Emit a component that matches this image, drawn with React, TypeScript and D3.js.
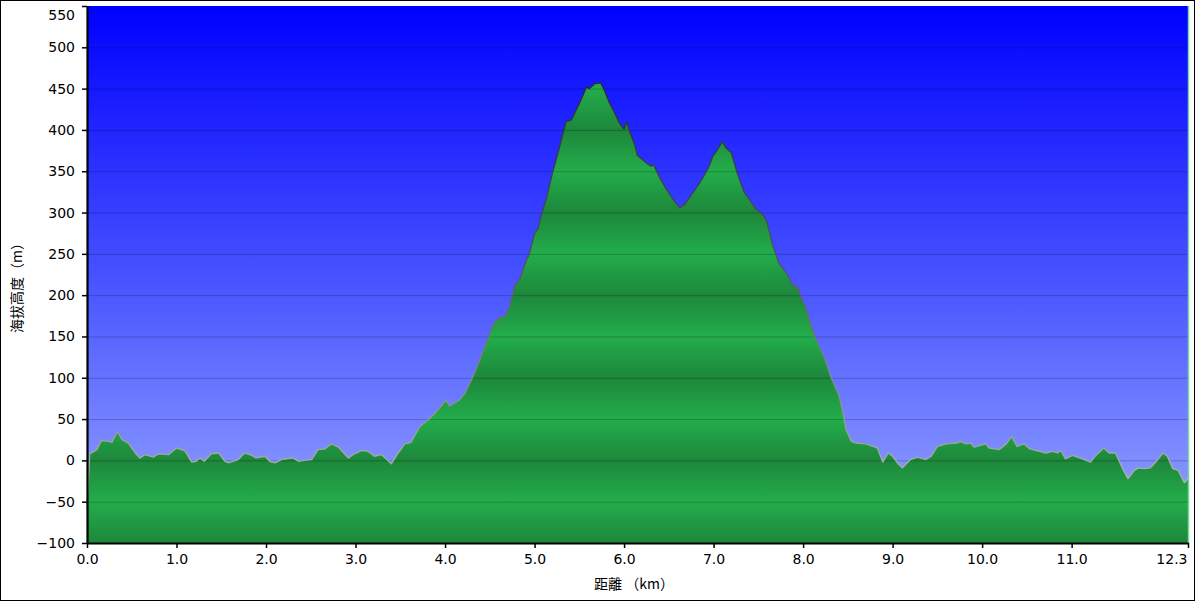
import { useEffect, useRef } from "react";
import * as d3 from "d3";

// elevation profile
const distanceKm = [
  0, 0.03, 0.05, 0.11, 0.16, 0.24, 0.28, 0.34, 0.39, 0.46, 0.54, 0.59, 0.65, 0.74, 0.8, 0.91,
  1.0, 1.09, 1.17, 1.22, 1.26, 1.31, 1.39, 1.47, 1.54, 1.58, 1.69, 1.76, 1.84, 1.89, 1.99,
  2.04, 2.1, 2.17, 2.3, 2.36, 2.43, 2.51, 2.58, 2.66, 2.73, 2.81, 2.92, 2.99,
  3.07, 3.14, 3.21, 3.29, 3.4, 3.47, 3.55, 3.62, 3.72, 3.85, 3.92,
  4.01, 4.05, 4.16, 4.22, 4.31, 4.39, 4.46, 4.54, 4.61, 4.67, 4.72, 4.78, 4.83, 4.91, 4.94,
  5.0, 5.04, 5.08, 5.13, 5.2, 5.28, 5.35, 5.41, 5.45, 5.5, 5.58, 5.61, 5.67, 5.74, 5.78, 5.84, 5.89, 5.95,
  6.0, 6.03, 6.06, 6.12, 6.15, 6.25, 6.3, 6.33, 6.4, 6.47, 6.54, 6.62, 6.67, 6.75, 6.84, 6.92, 6.95, 6.99,
  7.03, 7.1, 7.14, 7.2, 7.27, 7.34, 7.4, 7.47, 7.57, 7.6, 7.66, 7.73, 7.83, 7.88, 7.94, 7.98,
  8.03, 8.07, 8.14, 8.24, 8.31, 8.4, 8.44, 8.48, 8.54, 8.59, 8.7, 8.78, 8.83, 8.89, 8.95,
  9.0, 9.06, 9.11, 9.2, 9.28, 9.37, 9.43, 9.5, 9.6, 9.72, 9.76, 9.82, 9.87, 9.91,
  10.04, 10.08, 10.19, 10.27, 10.33, 10.39, 10.47, 10.53, 10.64, 10.71, 10.79, 10.84, 10.88, 10.93,
  11.01, 11.12, 11.21, 11.27, 11.36, 11.42, 11.49, 11.57, 11.63, 11.7, 11.75, 11.81, 11.88, 11.94,
  12.02, 12.07, 12.13, 12.19, 12.26, 12.3,
];

const elevationM = [
  -60, 8, 9, 13, 24, 23, 22, 35, 25, 21, 9, 3, 7, 4, 8, 7,
  15, 12, -2, -1, 3, -1, 8, 9, -1, -3, 1, 9, 6, 3, 5,
  -1, -3, 1, 3, -1, 0, 1, 13, 14, 20, 16, 3, 8,
  12, 11, 5, 7, -4, 8, 20, 22, 41, 53, 61,
  73, 66, 73, 81, 101, 122, 142, 165, 173, 174, 186, 212, 218, 243, 249,
  275, 281, 299, 316, 348, 380, 410, 412, 421, 432, 452, 450, 456, 457, 448, 432, 422, 408,
  401, 410, 399, 382, 369, 360, 356, 358, 342, 329, 317, 306, 309, 321, 335, 350, 356, 368,
  374, 386, 378, 372, 346, 325, 316, 305, 295, 287, 261, 239, 224, 212, 210, 196,
  186, 170, 148, 124, 101, 79, 61, 37, 23, 21, 20, 17, 15, -2, 9,
  5, -4, -9, 1, 4, 1, 5, 17, 20, 21, 23, 20, 21, 16,
  20, 15, 13, 20, 29, 17, 20, 14, 11, 9, 11, 9, 12, 2,
  6, 2, -2, 6, 15, 9, 9, -10, -22, -12, -9, -10, -9, -2,
  9, 5, -10, -12, -27, -22,
];

const yTicks = [-100, -50, 0, 50, 100, 150, 200, 250, 300, 350, 400, 450, 500, 550];
const xTicks = [0, 1, 2, 3, 4, 5, 6, 7, 8, 9, 10, 11, 12.3];
const xTickLabels = ["0.0", "1.0", "2.0", "3.0", "4.0", "5.0", "6.0", "7.0", "8.0", "9.0", "10.0", "11.0", "12.3"];

const W = 1195;
const H = 601;
const plot = { left: 87, right: 1188, top: 6, bottom: 543 };
const FONT = "'DejaVu Sans', Verdana, sans-serif";
const CJK = "'Noto Sans CJK TC', 'Noto Sans CJK SC', sans-serif";

const App = () => {
  const svgRef = useRef<SVGSVGElement>(null);

  useEffect(() => {
    const svg = d3.select(svgRef.current);
    svg.selectAll("*").remove();

    const data = distanceKm.map((d, i) => ({ km: d, m: elevationM[i] }));
    const x = d3.scaleLinear().domain([0, 12.3]).range([plot.left, plot.right]);
    const y = d3.scaleLinear().domain([-100, 550]).range([plot.bottom, plot.top]);

    const defs = svg.append("defs");
    const sky = defs.append("linearGradient").attr("id", "sky")
      .attr("gradientUnits", "userSpaceOnUse")
      .attr("x1", 0).attr("y1", plot.top).attr("x2", 0).attr("y2", plot.bottom);
    sky.append("stop").attr("offset", 0).attr("stop-color", "#0000ff");
    sky.append("stop").attr("offset", 0.5).attr("stop-color", "#4652ff");
    sky.append("stop").attr("offset", 1).attr("stop-color", "#98a8ff");

    // green bands repeating every 100 m
    const band = defs.append("linearGradient").attr("id", "band")
      .attr("gradientUnits", "userSpaceOnUse").attr("spreadMethod", "repeat")
      .attr("x1", 0).attr("y1", y(100)).attr("x2", 0).attr("y2", y(0));
    band.append("stop").attr("offset", 0).attr("stop-color", "#1d873b");
    band.append("stop").attr("offset", 0.5).attr("stop-color", "#23ad4b");
    band.append("stop").attr("offset", 1).attr("stop-color", "#1d873b");

    const edge = defs.append("linearGradient").attr("id", "edge")
      .attr("gradientUnits", "userSpaceOnUse")
      .attr("x1", 0).attr("y1", y(460)).attr("x2", 0).attr("y2", y(-30));
    edge.append("stop").attr("offset", 0).attr("stop-color", "#2a2a3a");
    edge.append("stop").attr("offset", 0.45).attr("stop-color", "#505070");
    edge.append("stop").attr("offset", 1).attr("stop-color", "#a8b8a8");

    svg.append("rect").attr("x", plot.left).attr("y", plot.top)
      .attr("width", plot.right - plot.left).attr("height", plot.bottom - plot.top)
      .attr("fill", "url(#sky)");

    const area = d3.area<any>().x((d) => x(d.km)).y0(y(-100)).y1((d) => y(d.m));
    svg.append("path").datum(data).attr("fill", "url(#band)").attr("d", area);

    svg.append("g").selectAll("line").data(yTicks.filter((t) => t > -100 && t < 550)).join("line")
      .attr("x1", plot.left).attr("x2", plot.right)
      .attr("y1", (d) => y(d) + 0.5).attr("y2", (d) => y(d) + 0.5)
      .attr("stroke", "#000").attr("stroke-opacity", 0.22).attr("stroke-width", 1);

    const line = d3.line<any>().x((d) => x(d.km)).y((d) => y(d.m));
    svg.append("path").datum(data).attr("fill", "none").attr("stroke", "url(#edge)")
      .attr("stroke-width", 1.4).attr("stroke-linejoin", "round").attr("d", line);

    svg.append("line").attr("x1", plot.right + 0.5).attr("x2", plot.right + 0.5)
      .attr("y1", plot.top).attr("y2", plot.bottom)
      .attr("stroke", "#74d89c").attr("stroke-width", 1.5);

    const yAxis = svg.append("g").attr("transform", `translate(${plot.left},0)`)
      .call(d3.axisLeft(y).tickValues(yTicks).tickSize(5).tickSizeOuter(0).tickPadding(7));
    const xAxis = svg.append("g").attr("transform", `translate(0,${plot.bottom})`)
      .call(d3.axisBottom(x).tickValues(xTicks).tickFormat((_, i) => xTickLabels[i])
        .tickSize(5).tickSizeOuter(0).tickPadding(6));

    [yAxis, xAxis].forEach((g) => {
      g.select(".domain").attr("stroke", "#000").attr("stroke-width", 2.2);
      g.selectAll(".tick line").attr("stroke", "#000").attr("stroke-width", 1.5);
      g.selectAll(".tick text").attr("fill", "#000")
        .style("font-family", FONT).style("font-size", "14px");
    });
    // top label sits below its tick so it stays inside the picture
    yAxis.selectAll<SVGTextElement, number>(".tick text")
      .filter((d) => d === 550).attr("dy", "0.95em");
    xAxis.selectAll<SVGTextElement, number>(".tick text")
      .filter((d) => d === 12.3).attr("text-anchor", "end").attr("dx", "-1");

    svg.append("text")
      .attr("transform", `translate(22,${(plot.top + plot.bottom) / 2 + 10}) rotate(-90)`)
      .attr("text-anchor", "middle").style("font-family", CJK).style("font-size", "14px")
      .text("海拔高度（m）");

    svg.append("text").attr("x", 634).attr("y", 589)
      .attr("text-anchor", "middle").style("font-family", CJK).style("font-size", "14px")
      .text("距離 （km）");

    svg.append("rect").attr("x", 0.5).attr("y", 0.5).attr("width", W - 1).attr("height", H - 1)
      .attr("fill", "none").attr("stroke", "#000").attr("stroke-width", 1);
  }, []);

  return (
    <svg ref={svgRef} width={W} height={H}
      style={{ position: "absolute", left: 0, top: 0, background: "#fff" }} />
  );
};

export default App;
